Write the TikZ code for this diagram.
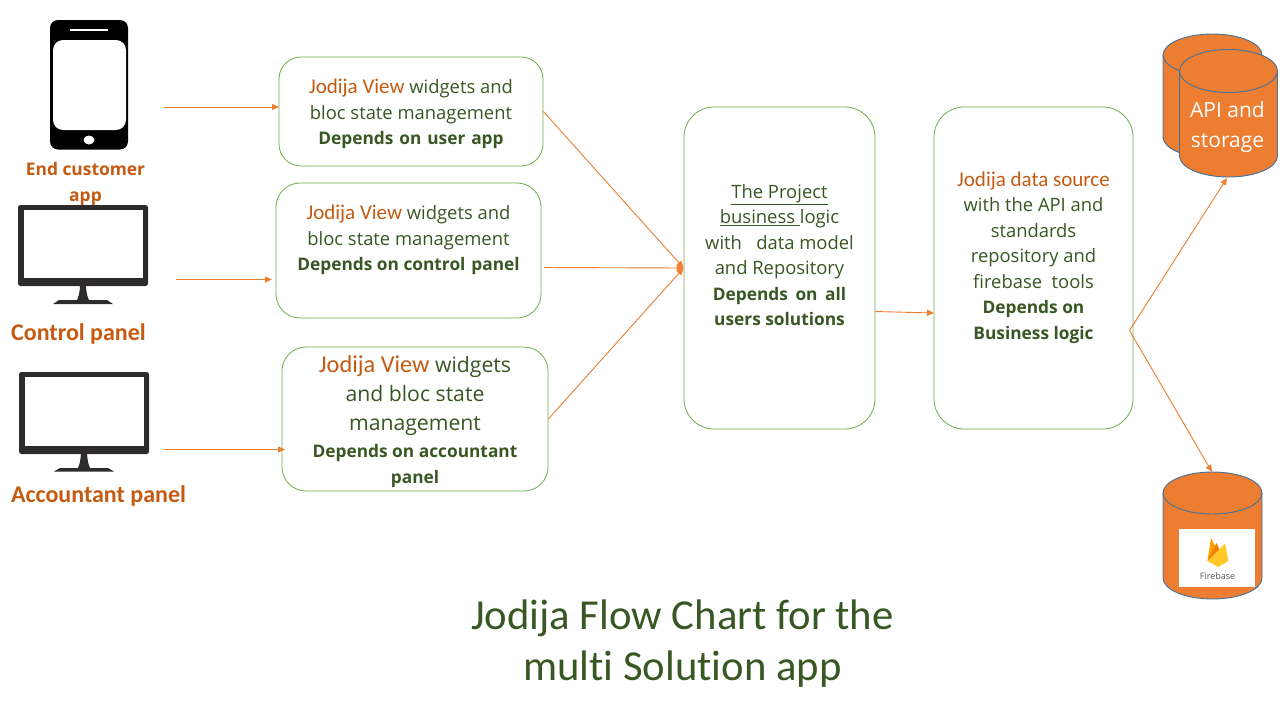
\documentclass[tikz,border=0pt]{standalone}
\usepackage{fontspec}
\setmainfont{Open Sans}
\newfontfamily\calf[Ligatures=NoCommon]{Carlito}
\usetikzlibrary{arrows.meta,calc}
\definecolor{txtgreen}{HTML}{385723}
\definecolor{txtorange}{HTML}{C55A11}
\definecolor{lineorange}{HTML}{ED7D31}
\definecolor{boxgreen}{HTML}{70AD47}
\definecolor{cylblue}{HTML}{41719C}
\definecolor{devdark}{HTML}{2E2B2C}
\definecolor{fbamber}{HTML}{FFA000}
\definecolor{fborange}{HTML}{F57C00}
\definecolor{fbyellow}{HTML}{FFCA28}
\newcommand{\jv}[1]{{\calf\fontsize{21}{25.5}\selectfont\color{txtorange}#1}}
\newcommand{\dep}[1]{{\fontsize{17.3}{25.5}\selectfont\bfseries #1}}
\newcommand{\bigline}{\fontsize{21.2}{25.5}\selectfont}
\newcommand{\lead}[1]{\rule{0pt}{#1pt}}
\tikzset{
  x=1pt,y=-1pt,
  flowbox/.style={draw=boxgreen,line width=0.8pt,fill=white,text=txtgreen,align=center,inner sep=0pt,
    font=\fontsize{18.4}{25.5}\selectfont},
  flow/.style={draw=lineorange,line width=0.9pt,-{Triangle[length=7pt,width=6pt]}},
  devlabel/.style={text=txtorange,align=center,inner sep=0pt,font=\calf\bfseries\fontsize{24}{26}\selectfont},
  cyl/.style={fill=lineorange,draw=cylblue,line width=0.9pt},
}
\begin{document}
\begin{tikzpicture}
\useasboundingbox (0,0) rectangle (1280,720);
\fill[white] (0,0) rectangle (1280,720);

% phone
\fill[black,rounded corners=8pt] (50,20) rectangle (128,149.5);
\fill[white,rounded corners=10pt] (53,40) rectangle (126,130);
\fill[white] (70,29) rectangle (108,31);
\fill[white] (89,140) ellipse [x radius=5.5,y radius=4.5];

% monitor 1
\fill[devdark,rounded corners=2.5pt] (18,205) rectangle (148,286);
\fill[white] (23.5,209.5) rectangle (143,278);
\fill[devdark] (80,286) .. controls (79.5,294) and (78.5,297) .. (77,300) -- (59,300) -- (53,304) -- (113,304) -- (107,300) -- (89,300) .. controls (87.5,297) and (86.5,294) .. (86,286) -- cycle;

% monitor 2
\fill[devdark,rounded corners=2.5pt] (19,372) rectangle (149,454);
\fill[white] (25,376.5) rectangle (144,445.5);
\fill[devdark] (81,454) .. controls (80.5,460) and (79.5,465) .. (78,468) -- (60,468) -- (54,471.5) -- (114,471.5) -- (108,468) -- (90,468) .. controls (88.5,465) and (87.5,460) .. (87,454) -- cycle;

% device labels
\node[devlabel,font=\bfseries\fontsize{17.4}{26}\selectfont] (lab1) at (85.5,184) {End customer\\app};
\node[devlabel] (lab2) at (78.5,334) {Control panel};
\node[devlabel] (lab3) at (98.5,496) {Accountant panel};

% boxes
\node[flowbox,rounded corners=22pt,minimum width=264pt,minimum height=109pt] (box1) at (411,111.5)
  {\lead{20}\jv{Jodija View} widgets and\\bloc state management\\\dep{Depends\kern1.4pt{} on\kern1.4pt{} user\kern1.4pt{} app}};
\node[flowbox,rounded corners=24pt,minimum width=265pt,minimum height=135pt] (box2) at (408.5,250.5)
  {\jv{Jodija View} widgets and\\bloc state management\\\dep{Depends on control\kern1.4pt{} panel}\\\mbox{}};
\node[flowbox,rounded corners=24pt,minimum width=266pt,minimum height=144pt] (box3) at (415,419)
  {\lead{22}\bigline\jv{\fontsize{24.3}{25.5}\selectfont Jodija View} widgets\\[3.5pt]\bigline and bloc state\\[3.5pt]\bigline management\\[1.5pt]\dep{Depends on accountant}\\\dep{panel}};
\node[flowbox,rounded corners=30pt,minimum width=191pt,minimum height=322pt] (center) at (779.5,268)
  {\underline{The Project}\\\underline{business~}logic\\with~~ data model\\and Repository\\\dep{Depends\kern3pt{} on\kern3pt{} all}\\\dep{users solutions}\\\mbox{}};
\node[flowbox,rounded corners=30pt,minimum width=199pt,minimum height=322pt] (right) at (1033.5,268)
  {\jv{Jodija data source}\\with the API and\\standards\\repository and\\firebase~ tools\\\dep{Depends on}\\\dep{Business logic}\\\mbox{}};

% title
\node[text=txtgreen,align=center,inner sep=0pt,font=\calf\fontsize{42.7}{51}\selectfont] (title) at (682.5,644)
  {Jodija Flow Chart for the\\multi Solution app};

% cylinder API and storage
\draw[cyl] (1163,55) -- (1163,137) arc[start angle=180,end angle=0,x radius=49.5,y radius=21] -- (1262,55) arc[start angle=0,end angle=-180,x radius=49.5,y radius=21] -- cycle;
\draw[cyl] (1163,55) arc[start angle=180,end angle=0,x radius=49.5,y radius=21];
\draw[cyl] (1179.5,71) -- (1179.5,156) arc[start angle=180,end angle=0,x radius=49,y radius=21] -- (1277.5,71) arc[start angle=0,end angle=-180,x radius=49,y radius=21.5] -- cycle;
\draw[cyl] (1179.5,71) arc[start angle=180,end angle=0,x radius=49,y radius=21.5];
\node[text=white,align=center,inner sep=0pt,font=\fontsize{21}{30}\selectfont] (api) at (1227.5,127.5) {API and\\storage};

% cylinder firebase
\draw[cyl] (1163,493) -- (1163,578) arc[start angle=180,end angle=0,x radius=49.5,y radius=21] -- (1262,493) arc[start angle=0,end angle=-180,x radius=49.5,y radius=21] -- cycle;
\draw[cyl] (1163,493) arc[start angle=180,end angle=0,x radius=49.5,y radius=21];
\fill[white] (1179,529) rectangle (1255,587);
\fill[fbamber] (1207.5,561) -- (1211,538) -- (1216.5,549) -- (1220,555) -- cycle;
\fill[fborange] (1207.5,561) -- (1216.5,543) -- (1221,553) -- cycle;
\fill[fbyellow] (1207.5,561) -- (1225,543.5) -- (1228.5,561) -- (1218,567) -- cycle;
\node[text=black!65,inner sep=0pt,font=\fontsize{9}{10}\selectfont] (fb) at (1217.5,576) {Firebase};

% connector ends
\coordinate (src1) at (164,107);
\coordinate (in1) at (279,107);
\coordinate (src2) at (176,279.5);
\coordinate (in2) at (272,279.5);
\coordinate (src3) at (164,449.5);
\coordinate (in3) at (285,449.5);
\coordinate (o2) at (544,267.5);
\coordinate (cout) at (875,311.5);
\coordinate (rin) at (934,313);
\coordinate (rout) at (1129.5,330.5);
\coordinate (apiin) at (1227,178);
\coordinate (fbin) at (1212,472);

\draw[flow] (src1) -- (in1);
\draw[flow] (src2) -- (in2);
\draw[flow] (src3) -- (in3);
\draw[flow] (box1.east) -- (center.west);
\draw[flow] (o2) -- (center.west);
\draw[flow] (box3.east) -- (center.west);
\draw[flow] (cout) -- (rin);
\draw[flow] (rout) -- (apiin);
\draw[flow] (rout) -- (fbin);
\end{tikzpicture}
\end{document}
